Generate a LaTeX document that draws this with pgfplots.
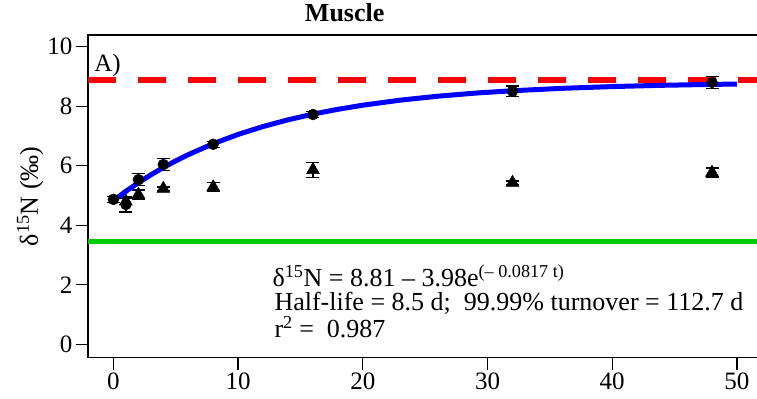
\documentclass[border=0pt]{standalone}
\usepackage{pgfplots}
\pgfplotsset{compat=1.18}
\usepackage{fontspec}
\setmainfont{Liberation Serif}
\definecolor{rred}{RGB}{255,0,0}
\definecolor{rgreen}{RGB}{0,205,0}
\definecolor{rblue}{RGB}{0,0,255}
\begin{document}
\begin{tikzpicture}
\useasboundingbox (0,0) rectangle (757bp,399bp);
\begin{axis}[
  at={(88bp,41.5bp)}, anchor=south west,
  scale only axis, width=672bp, height=322.5bp,
  xmin=-2.04, xmax=51.85, ymin=-0.44, ymax=10.39,
  xtick={0,10,20,30,40,50}, ytick={0,2,4,6,8,10},
  tick pos=left, tick align=outside, major tick length=12bp,
  tick style={black, line width=1.3bp},
  axis line style={line width=1.3bp},
  ticklabel style={font=\fontsize{25bp}{25bp}\selectfont},
  /pgf/number format/assume math mode=true,
  title={Muscle},
  title style={at={(axis description cs:0.382,1)}, anchor=base, yshift=8bp, font=\fontsize{26bp}{26bp}\selectfont\bfseries},
  ylabel={δ\textsuperscript{15}N (‰)},
  ylabel style={at={(axis description cs:-0.086,0.5)}, anchor=center, font=\fontsize{26bp}{26bp}\selectfont},
]
\addplot[rgreen, line width=5bp, forget plot] coordinates {(-5,3.46) (60,3.46)};
\addplot[rred, line width=6bp, dash pattern=on 28bp off 22bp, forget plot] coordinates {(-2.04,8.87) (60,8.87)};
% triangles
\addplot[only marks, mark=triangle*, mark size=7.5bp, black,
  error bars/.cd, y dir=both, y explicit,
  error bar style={line width=1.3bp, black},
  error mark options={rotate=90, mark size=6.5bp, line width=1.3bp}]
  coordinates {
  (1,4.80) +- (0,0.10)
  (2,5.03) +- (0,0.15)
  (4,5.23) +- (0,0.06)
  (8,5.28) +- (0,0.15)
  (16,5.86) +- (0,0.25)
  (32,5.43) +- (0,0.06)
  (48,5.77) +- (0,0.15)
  };
% circles
\addplot[only marks, mark=*, mark size=5.5bp, black,
  error bars/.cd, y dir=both, y explicit,
  error bar style={line width=1.3bp, black},
  error mark options={rotate=90, mark size=6.5bp, line width=1.3bp}]
  coordinates {
  (0,4.87) +- (0,0.10)
  (1,4.70) +- (0,0.25)
  (2,5.53) +- (0,0.20)
  (4,6.04) +- (0,0.20)
  (8,6.72) +- (0,0.10)
  (16,7.72) +- (0,0.10)
  (32,8.50) +- (0,0.18)
  (48,8.80) +- (0,0.20)
  };
% fitted curve
\addplot[rblue, line width=5bp, line join=round] coordinates {
  (0,4.830) (1,5.142) (2,5.430) (3,5.695) (4,5.939) (5,6.165) (6,6.372)
  (8,6.740) (10,7.052) (12,7.317) (14,7.542) (16,7.733) (18,7.895)
  (20,8.033) (23,8.202) (26,8.334) (29,8.438) (32,8.518) (36,8.599)
  (40,8.658) (44,8.701) (48,8.731) (50,8.743)
  };
\node[anchor=base west, inner sep=0pt, font=\fontsize{25bp}{25bp}\selectfont] at (axis cs:-1.55,9.15) {A)};
\node[anchor=base west, inner sep=0pt, font=\fontsize{26bp}{26bp}\selectfont] at (axis cs:12.75,1.95) {δ\textsuperscript{15}N = 8.81 – 3.98e\textsuperscript{(– 0.0817 t)}};
\node[anchor=base west, inner sep=0pt, font=\fontsize{26bp}{26bp}\selectfont] at (axis cs:12.9,1.13) {Half-life = 8.5 d;\ \ 99.99\% turnover = 112.7 d};
\node[anchor=base west, inner sep=0pt, font=\fontsize{26bp}{26bp}\selectfont] at (axis cs:12.9,0.24) {r\textsuperscript{2} =\ \ 0.987};
\end{axis}
\end{tikzpicture}
\end{document}
